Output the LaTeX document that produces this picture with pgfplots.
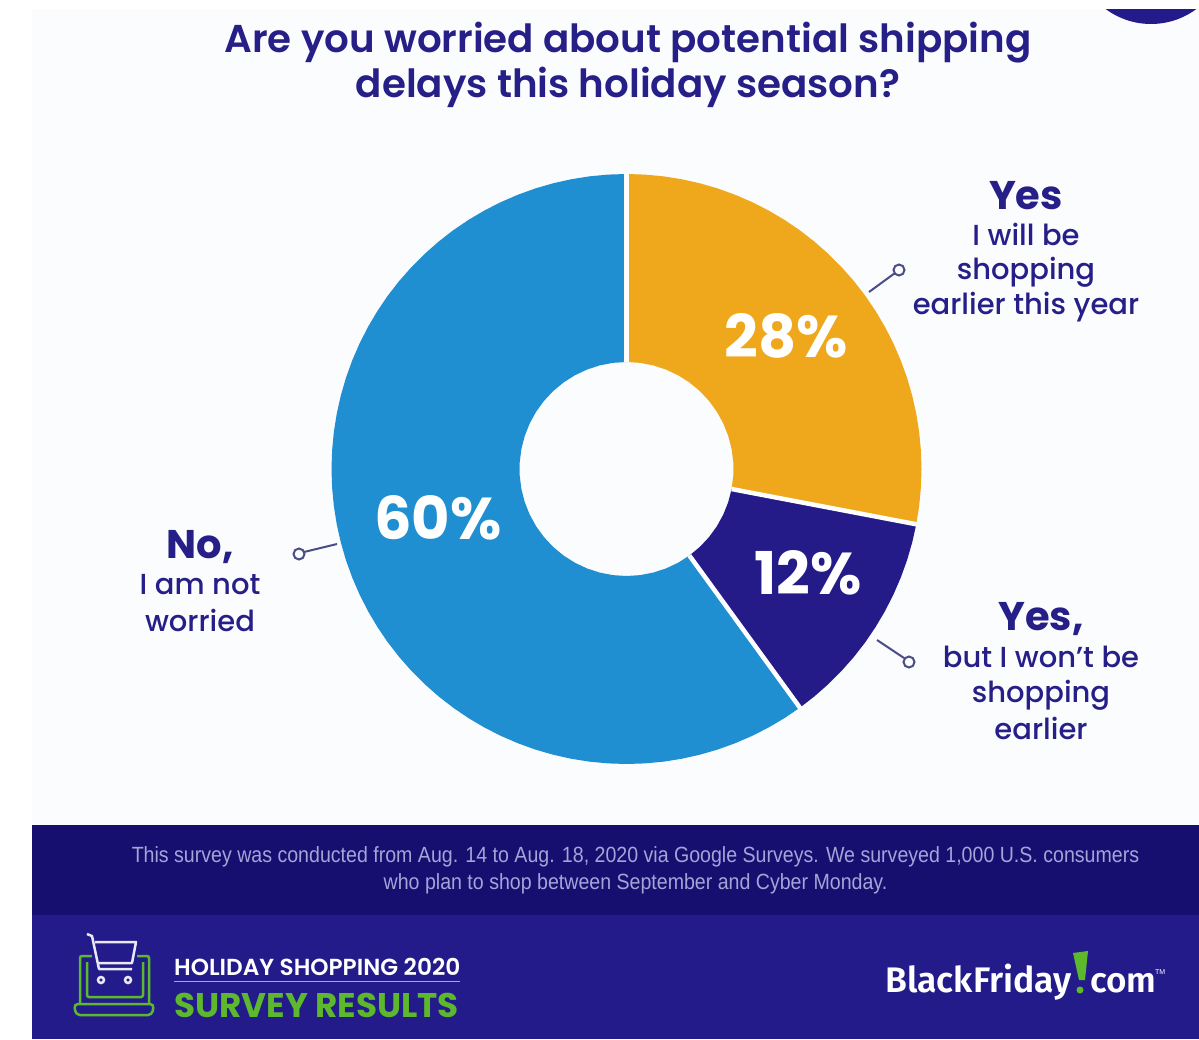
\documentclass[border=0pt]{standalone}
\usepackage{pgfplots}
\pgfplotsset{compat=1.18}
\usepgfplotslibrary{polar}
\usepackage{fontspec}
\setmainfont{Poppins Medium}
\newfontfamily\popsemi{Poppins SemiBold}
\newfontfamily\popbold{Poppins}[UprightFont=*-Bold]
\newfontfamily\arialish{Liberation Sans}
\newfontfamily\logofont{Fira Sans}[UprightFont=* SemiBold]
\definecolor{navy}{HTML}{271F88}
\definecolor{bandA}{HTML}{160F70}
\definecolor{bandB}{HTML}{231B8A}
\definecolor{panel}{HTML}{FBFCFE}
\definecolor{sliceYes}{HTML}{EFA81C}
\definecolor{sliceBut}{HTML}{241A88}
\definecolor{sliceNo}{HTML}{1F8FD2}
\definecolor{leader}{HTML}{4A4C86}
\definecolor{cartgreen}{HTML}{5DB82E}
\definecolor{finetext}{HTML}{A3A5D8}
\newcommand{\fs}[1]{\fontsize{#1}{#1}\selectfont}
\begin{document}
\begin{tikzpicture}
% page layout, one unit is one point
\begin{axis}[name=page,scale only axis,width=1199pt,height=1039pt,
  xmin=0,xmax=1199,ymin=0,ymax=1039,y dir=reverse,hide axis]
\fill[white] (axis cs:0,0) rectangle (axis cs:1199,1039);
\fill[panel] (axis cs:32,9) rectangle (axis cs:1199,825);
\fill[bandA] (axis cs:32,825) rectangle (axis cs:1199,915);
\fill[bandB] (axis cs:32,915) rectangle (axis cs:1199,1039);
% badge cut off by the top edge
\begin{scope}
\clip (axis cs:1000,9) rectangle (axis cs:1199,60);
\fill[bandB] (axis cs:1151,-52) circle[radius=76pt];
\end{scope}
% headline
\node[navy,font=\popsemi\fs{38.8}] at (axis cs:628,43) {Are you worried about potential shipping};
\node[navy,font=\popsemi\fs{38.8}] at (axis cs:628,87) {delays this holiday season?};
% callouts
\node[navy,font=\popbold\fs{40}] at (axis cs:1026,196) {Yes};
\node[navy,font=\fs{29}] at (axis cs:1026,234) {I will be};
\node[navy,font=\fs{29}] at (axis cs:1026,272) {shopping};
\node[navy,font=\fs{29}] at (axis cs:1026,307) {earlier this year};
\node[navy,font=\popbold\fs{40}] at (axis cs:1041,619) {Yes,};
\node[navy,font=\fs{29}] at (axis cs:1041,657) {but I won’t be};
\node[navy,font=\fs{29}] at (axis cs:1041,695) {shopping};
\node[navy,font=\fs{29}] at (axis cs:1041,728) {earlier};
\node[navy,font=\popbold\fs{40}] at (axis cs:200,547) {No,};
\node[navy,font=\fs{29}] at (axis cs:200,585) {I am not};
\node[navy,font=\fs{29}] at (axis cs:200,620) {worried};
% leader lines with their small rings
\draw[leader,line width=2pt] (axis cs:869,292) -- (axis cs:895,273);
\draw[leader,line width=2pt] (axis cs:899,270) circle[radius=5.5pt];
\draw[leader,line width=2pt] (axis cs:877,640) -- (axis cs:904,658);
\draw[leader,line width=2pt] (axis cs:909,662) circle[radius=5.5pt];
\draw[leader,line width=2pt] (axis cs:337,544) -- (axis cs:304,552);
\draw[leader,line width=2pt] (axis cs:299,554) circle[radius=5.5pt];
% footer notes
\node[finetext,font=\arialish\fs{22},xscale=.89] at (axis cs:635.5,857) {This survey was conducted from Aug. 14 to Aug. 18, 2020 via Google Surveys. We surveyed 1,000 U.S. consumers};
\node[finetext,font=\arialish\fs{22},xscale=.89] at (axis cs:635.5,884) {who plan to shop between September and Cyber Monday.};
% survey badge
\node[white,font=\popsemi\fs{23.2},anchor=west,inner sep=0pt] at (axis cs:174,967) {HOLIDAY SHOPPING 2020};
\draw[white!60!bandB,line width=.8pt] (axis cs:174,981) -- (axis cs:460,981);
\node[cartgreen,font=\popbold\fs{34.2},anchor=west,inner sep=0pt] at (axis cs:174,1005) {SURVEY RESULTS};
% cart
\draw[white!90!bandB,line width=2.5pt,line join=round] (axis cs:87,934) -- (axis cs:92,936) -- (axis cs:99,969) -- (axis cs:132,969);
\draw[white!90!bandB,line width=2.5pt,line join=round] (axis cs:95,942) -- (axis cs:136,942) -- (axis cs:132,963) -- (axis cs:98,963);
\draw[white!90!bandB,line width=2.5pt] (axis cs:101,980) circle[radius=3pt];
\draw[white!90!bandB,line width=2.5pt] (axis cs:128,980) circle[radius=3pt];
% laptop
\draw[cartgreen,line width=2.5pt,rounded corners=2pt] (axis cs:92,956) -- (axis cs:80,956) -- (axis cs:80,1003);
\draw[cartgreen,line width=2.5pt,rounded corners=2pt] (axis cs:137,956) -- (axis cs:149,956) -- (axis cs:149,1003);
\draw[cartgreen,line width=2.5pt,rounded corners=2pt] (axis cs:87,962) -- (axis cs:87,997) -- (axis cs:143,997) -- (axis cs:143,962);
\draw[cartgreen,line width=2.5pt,rounded corners=4pt] (axis cs:74,1004) -- (axis cs:154,1004) -- (axis cs:152,1015) -- (axis cs:76,1015) -- cycle;
% wordmark
\node[white,font=\logofont\fs{35.5},anchor=base west,inner sep=0pt] at (axis cs:885,992) {BlackFriday};
\node[white,font=\logofont\fs{35},anchor=base west,inner sep=0pt] at (axis cs:1090,992) {com};
\fill[cartgreen] (axis cs:1073,953) -- (axis cs:1088,951) -- (axis cs:1085,980) -- (axis cs:1079,980) -- cycle;
\fill[cartgreen] (axis cs:1080,990) circle[radius=3.5pt];
\node[white,font=\arialish\fs{7},anchor=west,inner sep=0pt] at (axis cs:1155,972) {TM};
\end{axis}
% ring of the survey answers; x is the running share in percent, y the radius
\begin{polaraxis}[at={(626.5pt,570pt)},anchor=center,scale only axis,width=590pt,height=590pt,
  xmin=-270,xmax=90,ymin=0,ymax=295,hide axis,clip=false]
\addplot[fill=sliceYes,draw=none] table[x expr=90-3.6*\thisrow{pct},y=r,row sep=\\]{
pct r\\
0 295\\ 1 295\\ 2 295\\ 3 295\\ 4 295\\ 5 295\\ 6 295\\ 7 295\\ 8 295\\ 9 295\\ 10 295\\ 11 295\\ 12 295\\ 13 295\\ 14 295\\
15 295\\ 16 295\\ 17 295\\ 18 295\\ 19 295\\ 20 295\\ 21 295\\ 22 295\\ 23 295\\ 24 295\\ 25 295\\ 26 295\\ 27 295\\ 28 295\\
28 107\\ 26 107\\ 24 107\\ 22 107\\ 20 107\\ 18 107\\ 16 107\\ 14 107\\ 12 107\\ 10 107\\ 8 107\\ 6 107\\ 4 107\\ 2 107\\ 0 107\\
0 295\\
};
\addplot[fill=sliceBut,draw=none] table[x expr=90-3.6*\thisrow{pct},y=r,row sep=\\]{
pct r\\
28 295\\ 29 295\\ 30 295\\ 31 295\\ 32 295\\ 33 295\\ 34 295\\ 35 295\\ 36 295\\ 37 295\\ 38 295\\ 39 295\\ 40 295\\
40 107\\ 38 107\\ 36 107\\ 34 107\\ 32 107\\ 30 107\\ 28 107\\
28 295\\
};
\addplot[fill=sliceNo,draw=none] table[x expr=90-3.6*\thisrow{pct},y=r,row sep=\\]{
pct r\\
40 295\\ 41 295\\ 42 295\\ 43 295\\ 44 295\\ 45 295\\ 46 295\\ 47 295\\ 48 295\\ 49 295\\ 50 295\\ 51 295\\ 52 295\\ 53 295\\ 54 295\\
55 295\\ 56 295\\ 57 295\\ 58 295\\ 59 295\\ 60 295\\ 61 295\\ 62 295\\ 63 295\\ 64 295\\ 65 295\\ 66 295\\ 67 295\\ 68 295\\ 69 295\\
70 295\\ 71 295\\ 72 295\\ 73 295\\ 74 295\\ 75 295\\ 76 295\\ 77 295\\ 78 295\\ 79 295\\ 80 295\\ 81 295\\ 82 295\\ 83 295\\ 84 295\\
85 295\\ 86 295\\ 87 295\\ 88 295\\ 89 295\\ 90 295\\ 91 295\\ 92 295\\ 93 295\\ 94 295\\ 95 295\\ 96 295\\ 97 295\\ 98 295\\ 99 295\\ 100 295\\
100 107\\ 98 107\\ 96 107\\ 94 107\\ 92 107\\ 90 107\\ 88 107\\ 86 107\\ 84 107\\ 82 107\\ 80 107\\ 78 107\\ 76 107\\ 74 107\\ 72 107\\
70 107\\ 68 107\\ 66 107\\ 64 107\\ 62 107\\ 60 107\\ 58 107\\ 56 107\\ 54 107\\ 52 107\\ 50 107\\ 48 107\\ 46 107\\ 44 107\\ 42 107\\ 40 107\\
40 295\\
};
% white seams between the slices
\addplot[white,line width=4.5pt,forget plot] table[x expr=90-3.6*\thisrow{pct},y=r,row sep=\\]{
pct r\\ 0 107\\ 0 296\\
};
\addplot[white,line width=4.5pt,forget plot] table[x expr=90-3.6*\thisrow{pct},y=r,row sep=\\]{
pct r\\ 28 107\\ 28 296\\
};
\addplot[white,line width=4.5pt,forget plot] table[x expr=90-3.6*\thisrow{pct},y=r,row sep=\\]{
pct r\\ 40 107\\ 40 296\\
};
\node[white,font=\popbold\fs{59}] at (axis cs:39.8,207.7) {28\%};
\node[white,font=\popbold\fs{59}] at (axis cs:-29.8,209) {12\%};
\node[white,font=\popbold\fs{59}] at (axis cs:194.6-360,194.8) {60\%};
\end{polaraxis}
\end{tikzpicture}
\end{document}
